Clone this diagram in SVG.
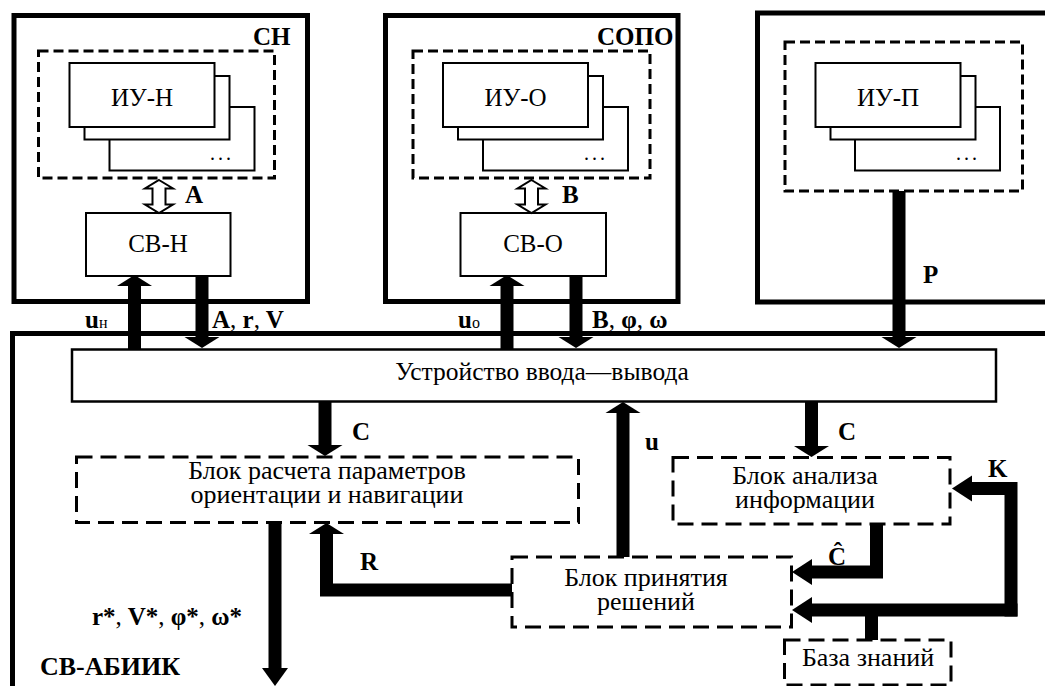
<svg xmlns="http://www.w3.org/2000/svg" width="1045" height="686" viewBox="0 0 1045 686" font-family="'Liberation Serif', Tinos, 'Times New Roman', 'DejaVu Serif', serif">
<style>
text{font-family:"Liberation Serif",Tinos,"Times New Roman","DejaVu Serif",serif;fill:#000}
.t{font-size:26px;text-anchor:middle}
.t25{font-size:25px;text-anchor:middle}
.b{font-size:25px;font-weight:bold}
.sub{font-size:16px;font-weight:normal}
.outer{fill:none;stroke:#000;stroke-width:5}
.dash{fill:none;stroke:#000;stroke-width:3;stroke-dasharray:10 5}
.dash2{fill:none;stroke:#000;stroke-width:3;stroke-dasharray:16 8}
.box{fill:#fff;stroke:#000;stroke-width:2}
.thick{fill:none;stroke:#000;stroke-width:13;stroke-linejoin:miter}
.hollow{fill:#fff;stroke:#000;stroke-width:2;stroke-linejoin:miter}
</style>
<defs>
<marker id="hv" markerUnits="userSpaceOnUse" orient="auto" refX="0" refY="0" markerWidth="11" markerHeight="35" viewBox="0 -17.5 11 35" overflow="visible"><path d="M0,-17.5 L11,0 L0,17.5 Z" fill="#000"/></marker>
<marker id="hh" markerUnits="userSpaceOnUse" orient="auto" refX="0" refY="0" markerWidth="20" markerHeight="26" viewBox="0 -13 20 26" overflow="visible"><path d="M0,-13 L20,0 L0,13 Z" fill="#000"/></marker>
<marker id="ho" markerUnits="userSpaceOnUse" orient="auto" refX="0" refY="0" markerWidth="18" markerHeight="26" viewBox="0 -13 18 26" overflow="visible"><path d="M0,-13 L18,0 L0,13 Z" fill="#000"/></marker>
</defs>
<rect width="1045" height="686" fill="#fff"/>

<g id="SN">
<rect class="outer" x="14" y="15.5" width="293.5" height="286"/>
<text class="b" x="253" y="45">СН</text>
<rect class="dash" x="38.5" y="51" width="236" height="127"/>
<rect class="box" x="109.5" y="107" width="145" height="63.5"/>
<rect class="box" x="84.5" y="76" width="145" height="63.5"/>
<rect class="box" x="69.5" y="63" width="145" height="64"/>
<text class="t25" x="142" y="106">ИУ-Н</text>
<text x="210" y="160" style="font-size:20px;letter-spacing:3px">...</text>
</g>
<g id="SV-N">
<rect class="box" x="86" y="213" width="144.5" height="63"/>
<text class="t25" x="158" y="252">СВ-Н</text>
</g>

<g id="SOPO">
<rect class="outer" x="385.5" y="15.5" width="292.5" height="286"/>
<text class="b" x="597" y="45">СОПО</text>
<rect class="dash" x="413" y="51" width="237" height="127"/>
<rect class="box" x="483" y="107" width="145" height="63.5"/>
<rect class="box" x="458" y="76" width="145" height="63.5"/>
<rect class="box" x="443" y="63" width="145" height="64"/>
<text class="t25" x="515.5" y="106">ИУ-О</text>
<text x="584" y="160" style="font-size:20px;letter-spacing:3px">...</text>
</g>
<g id="SV-O">
<rect class="box" x="460.5" y="213" width="145.5" height="63"/>
<text class="t25" x="533" y="252">СВ-О</text>
</g>

<g id="SP">
<polyline class="outer" points="1045,13 757.5,13 757.5,302 1045,302"/>
<rect class="dash" x="785" y="42" width="237.5" height="149"/>
<rect class="box" x="855" y="107" width="145" height="63.5"/>
<rect class="box" x="830.5" y="76" width="145" height="63.5"/>
<rect class="box" x="815.5" y="63" width="145" height="64"/>
<text class="t25" x="888" y="106">ИУ-П</text>
<text x="956" y="160" style="font-size:20px;letter-spacing:3px">...</text>
</g>

<g id="SV-ABIIK">
<polyline class="outer" points="12.5,686 12.5,333.5 1045,333.5"/>
<text class="b" x="40" y="675" style="font-size:26px">СВ-АБИИК</text>
</g>

<g id="io">
<rect x="72" y="349.5" width="924" height="52" fill="#fff" stroke="#000" stroke-width="2.5"/>
<text class="t" x="542" y="380" style="font-size:25.5px">Устройство ввода—вывода</text>
</g>

<g id="calc">
<rect class="dash2" x="76.5" y="457" width="502" height="65.5"/>
<text class="t" x="327" y="479">Блок расчета параметров</text>
<text class="t" x="327" y="503">ориентации и навигации</text>
</g>

<g id="analysis">
<rect class="dash2" x="673" y="457.5" width="277" height="66.5"/>
<text class="t" x="805" y="484">Блок анализа</text>
<text class="t" x="805" y="508">информации</text>
</g>

<g id="decision">
<rect class="dash2" x="512" y="557" width="279.5" height="70"/>
<text class="t" x="646" y="586">Блок принятия</text>
<text class="t" x="646" y="610">решений</text>
</g>

<g id="kb">
<rect class="dash2" x="784.5" y="640" width="166.5" height="45"/>
<text class="t" x="868" y="666">База знаний</text>
</g>

<g id="connectors">
<polygon class="hollow" points="159,180 173,188.5 165.5,188.5 165.5,204.5 173,204.5 159,213 145,204.5 152.5,204.5 152.5,188.5 145,188.5"/>
<polygon class="hollow" points="531.5,180 545.5,188.5 538,188.5 538,204.5 545.5,204.5 531.5,213 517.5,204.5 525,204.5 525,188.5 517.5,188.5"/>
<path class="thick" d="M134.5,349 V286" marker-end="url(#hv)"/>
<path class="thick" d="M202,276 V337" marker-end="url(#hv)"/>
<path class="thick" d="M507,349 V286" marker-end="url(#hv)"/>
<path class="thick" d="M576,276 V337" marker-end="url(#hv)"/>
<path class="thick" d="M899,191 V337" marker-end="url(#hv)"/>
<path class="thick" d="M325,401.5 V445" marker-end="url(#hv)"/>
<path class="thick" d="M811.5,401.5 V446" marker-end="url(#hv)"/>
<path class="thick" d="M623,557 V413" marker-end="url(#hv)"/>
<path class="thick" d="M275,523 V668" marker-end="url(#ho)"/>
<path class="thick" d="M512,590 H326.5 V534" marker-end="url(#hv)"/>
<path class="thick" d="M876.5,524 V572 H812" marker-end="url(#hh)"/>
<path class="thick" d="M1017.5,610 H812" marker-end="url(#hh)"/>
<path class="thick" d="M1011,616.5 V488.5 H972" marker-end="url(#hh)"/>
<path class="thick" d="M871.5,640 V610"/>
<text class="b" x="185" y="203">A</text>
<text class="b" x="562" y="203">B</text>
<text class="b" x="923" y="283">P</text>
<text class="b" x="85" y="328">u<tspan class="sub">н</tspan></text>
<text class="b" x="212" y="328">A<tspan font-weight="normal">,</tspan> r<tspan font-weight="normal">,</tspan> V</text>
<text class="b" x="458" y="328">u<tspan class="sub">о</tspan></text>
<text class="b" x="592" y="328">B<tspan font-weight="normal">,</tspan> φ<tspan font-weight="normal">,</tspan> ω</text>
<text class="b" x="352" y="440">C</text>
<text class="b" x="838" y="440">C</text>
<text class="b" x="645" y="450">u</text>
<text class="b" x="360" y="570">R</text>
<text class="b" x="988" y="477">K</text>
<text class="b" x="828" y="565">Ĉ</text>
<text class="b" x="92" y="625">r*<tspan font-weight="normal">,</tspan> V*<tspan font-weight="normal">,</tspan> φ*<tspan font-weight="normal">,</tspan> ω*</text>
</g>
</svg>
